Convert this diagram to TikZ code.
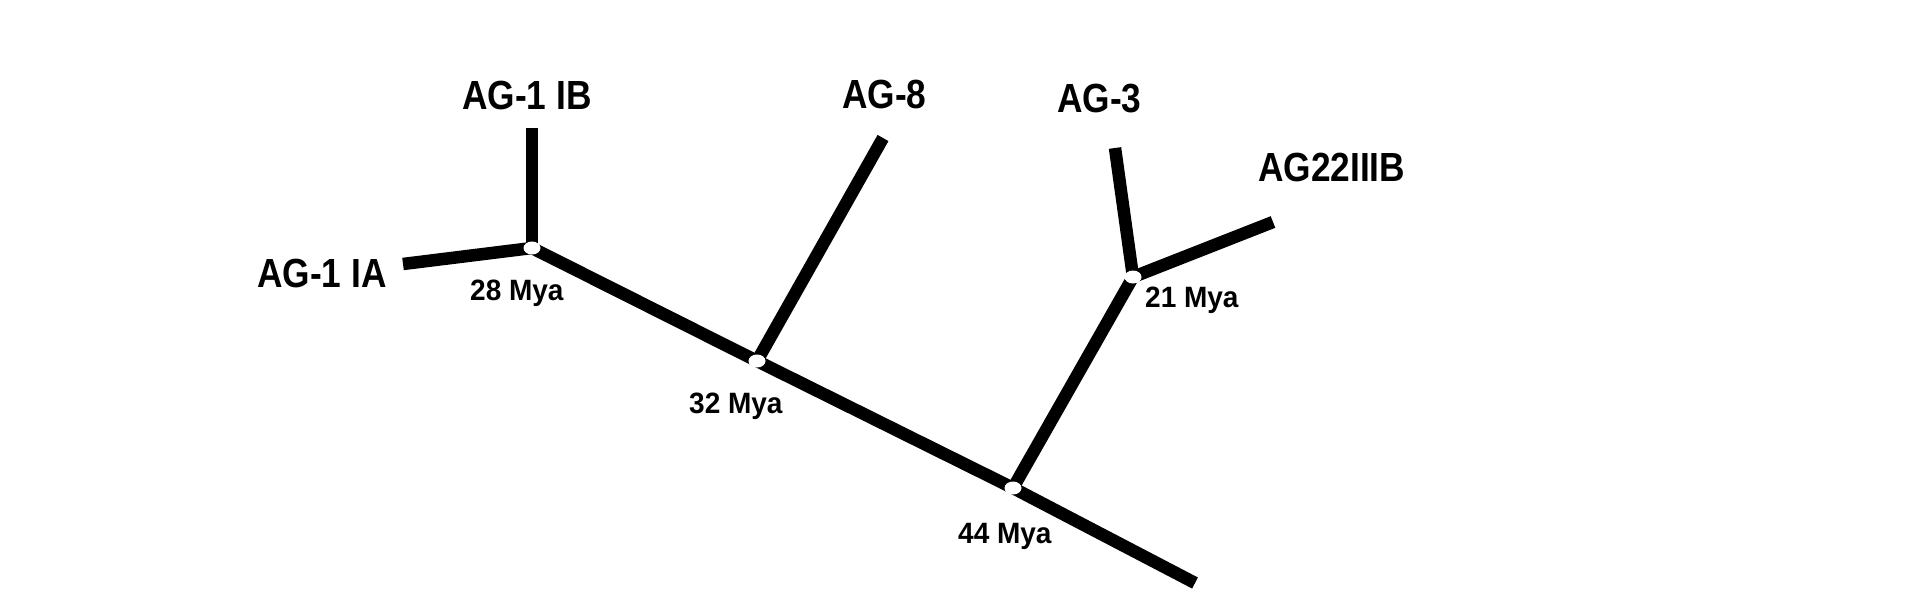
\documentclass[tikz,border=0pt]{standalone}
\usepackage{fontspec}
\setmainfont{Liberation Sans}
\usetikzlibrary{shapes.geometric}
\newcommand{\tallbig}[1]{\scalebox{0.98}[1.13]{#1}}
\newcommand{\tallsmall}[1]{\scalebox{1}[1.05]{#1}}
\begin{document}
\begin{tikzpicture}[x=1pt,y=-1pt,
  branch/.style={line width=12.5pt,black,line cap=butt},
  joint/.style={ellipse,fill=white,draw=none,minimum width=17pt,minimum height=13pt,inner sep=0pt},
  taxon/.style={font=\fontsize{36}{40}\selectfont\bfseries,inner sep=0pt,anchor=base west},
  age/.style={font=\fontsize{28}{32}\selectfont\bfseries,inner sep=0pt,anchor=base west}]
\useasboundingbox[fill=white] (0,0) rectangle (1920,592);
% internal nodes
\coordinate (n28) at (532,248);
\coordinate (n32) at (757,361);
\coordinate (n44) at (1013,488);
\coordinate (n21) at (1133,277);
% tips
\coordinate (tIA) at (403,264);
\coordinate (tIB) at (532,128);
\coordinate (t8) at (883,138);
\coordinate (t3) at (1115,148);
\coordinate (t22) at (1273,222);
\coordinate (root) at (1195,583);
% branches
\draw[branch] (tIA) -- (n28);
\draw[branch] (tIB) -- (n28);
\draw[branch] (n28) -- (n32) -- (n44) -- (root);
\draw[branch] (t8) -- (n32);
\draw[branch] (n44) -- (n21);
\draw[branch] (t3) -- (n21);
\draw[branch] (t22) -- (n21);
% joints
\node[joint] (j28) at (n28) {};
\node[joint] (j32) at (n32) {};
\node[joint] (j44) at (n44) {};
\node[joint] (j21) at (n21) {};
% taxon labels
\node[taxon] (lIB) at (462,109) {\tallbig{AG-1 IB}};
\node[taxon] (lIA) at (257,287) {\tallbig{AG-1 IA}};
\node[taxon] (l8) at (842,108) {\tallbig{AG-8}};
\node[taxon] (l3) at (1057,112) {\tallbig{AG-3}};
\node[taxon] (l22) at (1258,181) {\tallbig{AG22IIIB}};
% ages
\node[age] (a28) at (470,300) {\tallsmall{28 Mya}};
\node[age] (a32) at (689,413) {\tallsmall{32 Mya}};
\node[age] (a44) at (958,543) {\tallsmall{44 Mya}};
\node[age] (a21) at (1145,307) {\tallsmall{21 Mya}};
\end{tikzpicture}
\end{document}
